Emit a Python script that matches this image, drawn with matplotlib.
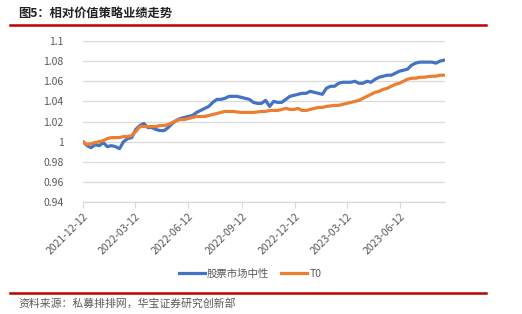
import matplotlib
matplotlib.use("Agg")
import matplotlib.pyplot as plt
import matplotlib.dates as mdates
from matplotlib.lines import Line2D
import pandas as pd

plt.rcParams['font.family'] = ['Noto Sans CJK SC', 'DejaVu Sans']

title = "图5：相对价值策略业绩走势"
source = "资料来源：私募排排网，华宝证券研究创新部"
series_names = ["股票市场中性", "T0"]
start_date = "2021-12-12"
tick_labels = ["2021-12-12", "2022-03-12", "2022-06-12", "2022-09-12",
               "2022-12-12", "2023-03-12", "2023-06-12"]
y_ticks = [0.94, 0.96, 0.98, 1.0, 1.02, 1.04, 1.06, 1.08, 1.1]
y_tick_labels = ["0.94", "0.96", "0.98", "1", "1.02", "1.04", "1.06", "1.08", "1.1"]

neutral = [1.000, 0.996, 0.994, 0.997, 0.996, 0.999, 0.995, 0.996, 0.995, 0.993,
           1.000, 1.003, 1.004, 1.012, 1.016, 1.018, 1.014, 1.014, 1.012, 1.011,
           1.011, 1.014, 1.018, 1.021, 1.023, 1.024, 1.025, 1.026, 1.029, 1.031,
           1.033, 1.035, 1.039, 1.042, 1.042, 1.043, 1.045, 1.045, 1.045, 1.044,
           1.043, 1.042, 1.039, 1.038, 1.038, 1.041, 1.035, 1.040, 1.039, 1.039,
           1.042, 1.045, 1.046, 1.047, 1.048, 1.048, 1.050, 1.049, 1.048, 1.047,
           1.053, 1.055, 1.055, 1.058, 1.059, 1.059, 1.059, 1.060, 1.058, 1.058,
           1.060, 1.059, 1.062, 1.064, 1.065, 1.066, 1.066, 1.068, 1.070, 1.071,
           1.072, 1.076, 1.078, 1.079, 1.079, 1.079, 1.079, 1.078, 1.080, 1.081]
t0 = [1.000, 0.997, 0.998, 0.999, 1.000, 1.001, 1.003, 1.004, 1.004, 1.004,
      1.005, 1.005, 1.006, 1.010, 1.015, 1.015, 1.015, 1.015, 1.015, 1.016,
      1.016, 1.017, 1.019, 1.021, 1.022, 1.022, 1.023, 1.024, 1.025, 1.025,
      1.025, 1.026, 1.027, 1.028, 1.029, 1.030, 1.030, 1.030, 1.0295, 1.029,
      1.029, 1.029, 1.029, 1.0295, 1.030, 1.030, 1.031, 1.031, 1.031, 1.032,
      1.033, 1.032, 1.032, 1.033, 1.031, 1.031, 1.032, 1.033, 1.034, 1.034,
      1.035, 1.0355, 1.036, 1.036, 1.037, 1.038, 1.039, 1.040, 1.041, 1.043,
      1.045, 1.047, 1.049, 1.050, 1.052, 1.053, 1.055, 1.057, 1.058, 1.060,
      1.062, 1.063, 1.063, 1.064, 1.064, 1.0645, 1.065, 1.065, 1.066, 1.066]

dates = pd.date_range(start_date, periods=len(neutral), freq="7D")
tick_dates = pd.to_datetime(tick_labels)

fig = plt.figure(figsize=(5.22, 3.14), dpi=100)
ax = fig.add_axes([83 / 522, 1 - 202 / 314, (445 - 83) / 522, (202 - 41) / 314])

blue = "#4472C4"
orange = "#ED7D31"
ax.plot(dates, neutral, color=blue, lw=2.3, solid_capstyle="round", zorder=3)
ax.plot(dates, t0, color=orange, lw=2.3, solid_capstyle="round", zorder=3)

ax.set_ylim(0.94, 1.1)
ax.set_yticks(y_ticks)
ax.set_yticklabels(y_tick_labels)
x0 = mdates.date2num(pd.Timestamp(start_date))
x_end = x0 + (445 - 83) / (400 - 83) * (mdates.date2num(tick_dates[-1]) - x0)
ax.set_xlim(x0, x_end)
ax.set_xticks(tick_dates)
ax.set_xticklabels(tick_labels, rotation=45, ha="right", va="top",
                   rotation_mode="anchor")

ax.grid(axis="y", color="#D9D9D9", lw=0.9)
ax.set_axisbelow(True)
for s in ["top", "right", "left"]:
    ax.spines[s].set_visible(False)
ax.spines["bottom"].set_color("#D9D9D9")
ax.spines["bottom"].set_linewidth(0.9)
ax.tick_params(axis="y", length=0, pad=14, labelsize=7.5, labelcolor="#595959")
ax.tick_params(axis="x", length=4, color="#D9D9D9", width=0.9, pad=3,
               labelsize=7.5, labelcolor="#595959")

handles = [Line2D([], [], color=blue, lw=2.3), Line2D([], [], color=orange, lw=2.3)]
fig.legend(handles, series_names, loc="center", bbox_to_anchor=(250 / 522, 1 - 274 / 314),
           ncol=2, frameon=False, fontsize=7.5, labelcolor="#595959",
           handlelength=2.5, handletextpad=0.2, columnspacing=1.2)

fig.text(18 / 522, 1 - 13 / 314, title, fontsize=8.8, fontweight="bold",
         color="#222222", ha="left", va="center")
fig.add_artist(Line2D([10 / 522, 486 / 522], [1 - 24.5 / 314, 1 - 24.5 / 314],
                      color="#C00000", lw=1.8, transform=fig.transFigure))
fig.add_artist(Line2D([10 / 522, 486 / 522], [1 - 292.7 / 314, 1 - 292.7 / 314],
                      color="#C00000", lw=1.8, transform=fig.transFigure))
fig.text(18 / 522, 1 - 303 / 314, source, fontsize=7.8, color="#595959",
         ha="left", va="center")

fig.savefig("out.png", dpi=100)
